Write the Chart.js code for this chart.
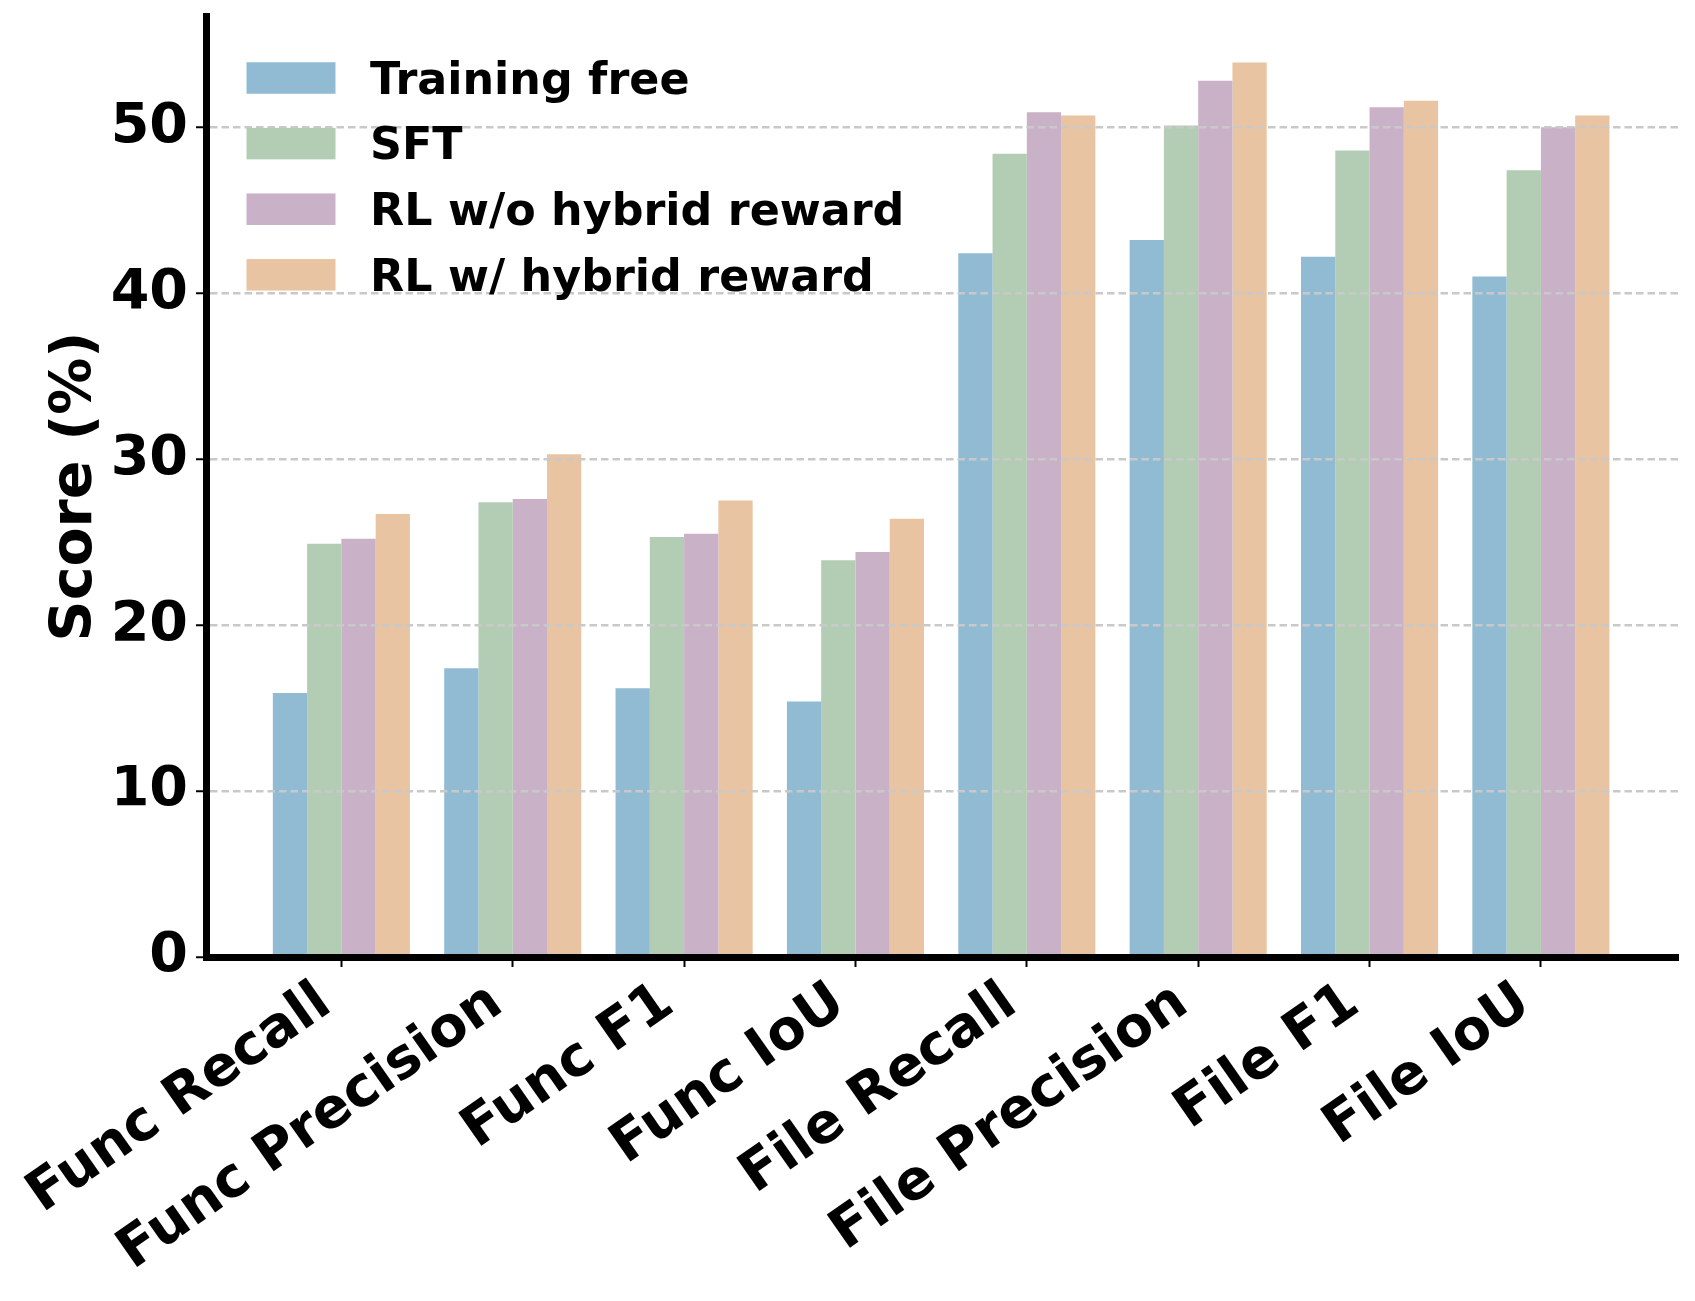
<!DOCTYPE html>
<html>
<head>
<meta charset="utf-8">
<script src="https://cdn.jsdelivr.net/npm/chart.js@4.4.1/dist/chart.umd.min.js"></script>
<style>
  html, body { margin: 0; padding: 0; background: #ffffff; }
  #wrap { width: 1695px; height: 1301px; }
  canvas { display: block; }
</style>
</head>
<body>
<div id="wrap"><canvas id="c" width="1695" height="1301"></canvas></div>
<script>
// ---- data ----
const categories = ['Func Recall', 'Func Precision', 'Func F1', 'Func IoU',
                    'File Recall', 'File Precision', 'File F1', 'File IoU'];
const seriesNames = ['Training free', 'SFT', 'RL w/o hybrid reward', 'RL w/ hybrid reward'];
const trainingFree = [15.9, 17.4, 16.2, 15.4, 42.4, 43.2, 42.2, 41.0];
const sft          = [24.9, 27.4, 25.3, 23.9, 48.4, 50.1, 48.6, 47.4];
const rlNoHybrid   = [25.2, 27.6, 25.5, 24.4, 50.9, 52.8, 51.2, 50.0];
const rlHybrid     = [26.7, 30.3, 27.5, 26.4, 50.7, 53.9, 51.6, 50.7];
const yTickValues  = [0, 10, 20, 30, 40, 50];
const yAxisTitle   = 'Score (%)';

// ---- styles ----
const seriesColors = ['#90bbd3', '#b3cdb4', '#c9b1c7', '#e8c4a2'];
const FONT = 'DejaVu Sans';

const seriesValues = [trainingFree, sft, rlNoHybrid, rlHybrid];

const insideLegend = {
  id: 'insideLegend',
  afterDraw(chart, args, o) {
    const ctx = chart.ctx;
    const area = chart.chartArea;
    ctx.save();
    chart.data.datasets.forEach((ds, i) => {
      const cy = area.top + o.firstOffset + i * o.rowGap;
      const x0 = area.left + o.leftOffset;
      ctx.fillStyle = ds.backgroundColor;
      ctx.fillRect(x0, cy - o.boxH / 2, o.boxW, o.boxH);
      ctx.fillStyle = '#000000';
      ctx.font = 'bold ' + o.fontSize + 'px "' + FONT + '"';
      ctx.textAlign = 'left';
      ctx.textBaseline = 'alphabetic';
      ctx.fillText(ds.label, x0 + o.boxW + o.textGap, cy + o.boxH / 2);
    });
    ctx.restore();
  }
};

Chart.defaults.color = '#000000';
Chart.defaults.font.family = FONT;

new Chart(document.getElementById('c'), {
  type: 'bar',
  data: {
    datasets: seriesNames.map((name, k) => ({
      label: name,
      data: seriesValues[k].map((v, i) => ({ x: i, y: v })),
      backgroundColor: seriesColors[k],
      borderWidth: 0,
      categoryPercentage: 0.8,
      barPercentage: 1.0
    }))
  },
  options: {
    responsive: false,
    animation: false,
    devicePixelRatio: 1,
    layout: { padding: { top: 16, right: 17, left: 0, bottom: 0 } },
    plugins: {
      legend: { display: false },
      tooltip: { enabled: false },
      insideLegend: {
        leftOffset: 40.5, firstOffset: 62, rowGap: 65.6,
        boxW: 89, boxH: 31.5, textGap: 34.5, fontSize: 44.4
      }
    },
    scales: {
      x: {
        type: 'linear',
        min: -0.79,
        max: 7.80,
        offset: false,
        afterBuildTicks: (s) => { s.ticks = categories.map((c, i) => ({ value: i })); },
        afterFit: (s) => { s.height = 344; s.paddingLeft = 0; s.paddingRight = 0; },
        grid: {
          display: true,
          offset: false,
          drawOnChartArea: false,
          drawTicks: true,
          tickLength: 10,
          tickWidth: 2,
          tickColor: '#000000'
        },
        border: { display: true, color: '#000000', width: 7, z: 1 },
        ticks: {
          autoSkip: false,
          minRotation: 35,
          maxRotation: 35,
          padding: -8,
          color: '#000000',
          font: { family: FONT, weight: 'bold', size: 55.6 },
          callback: (v) => categories[v] + ' '
        }
      },
      y: {
        type: 'linear',
        min: 0,
        max: 56.7,
        afterBuildTicks: (s) => { s.ticks = yTickValues.map(v => ({ value: v })); },
        afterFit: (s) => { s.width = 206; s.paddingTop = 0; s.paddingBottom = 0; },
        grid: {
          display: true,
          offset: false,
          drawOnChartArea: true,
          drawTicks: true,
          z: 1,
          color: (c) => (c.tick && c.tick.value === 0) ? 'rgba(0,0,0,0)' : '#c9c9c9',
          lineWidth: 2.5,
          tickLength: 10,
          tickWidth: 2,
          tickColor: '#000000',
          tickBorderDash: []
        },
        border: { display: true, color: '#000000', width: 7, z: 1, dash: [7.5, 4] },
        title: {
          display: true,
          text: yAxisTitle,
          color: '#000000',
          font: { family: FONT, weight: 'bold', size: 57, lineHeight: 1.2 },
          padding: { top: 41.5, bottom: 0 }
        },
        ticks: {
          padding: 8,
          color: '#000000',
          font: { family: FONT, weight: 'bold', size: 55.6 },
          callback: (v) => String(v)
        }
      }
    }
  },
  plugins: [insideLegend]
});
</script>
</body>
</html>
